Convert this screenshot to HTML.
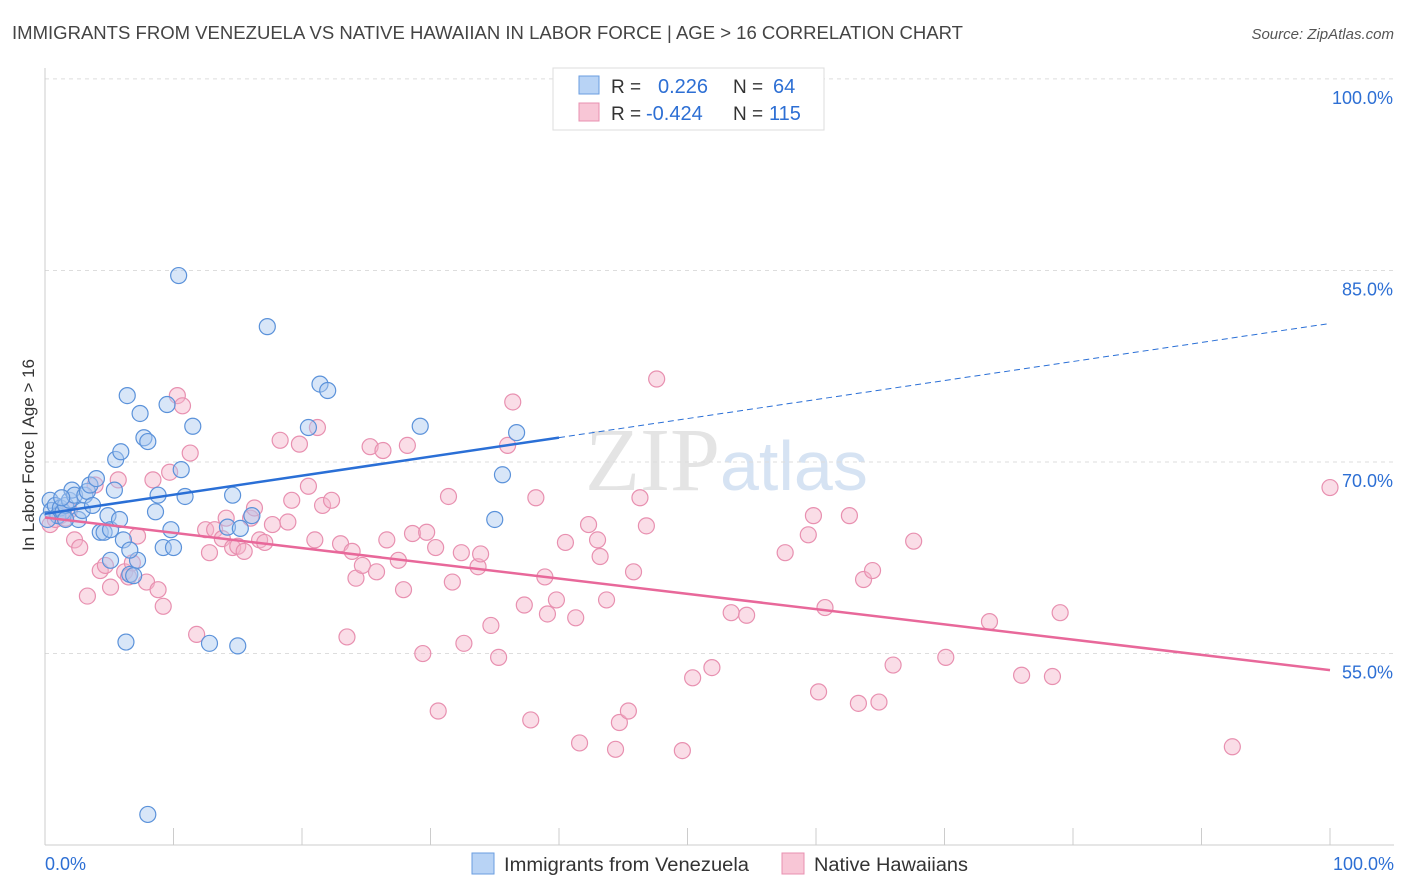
<!DOCTYPE html>
<html><head><meta charset="utf-8"><style>
body{margin:0;background:#fff;font-family:"Liberation Sans",sans-serif}
svg{display:block}
</style></head><body>
<svg id="chart" width="1406" height="892" xmlns="http://www.w3.org/2000/svg">
<text x="12" y="39" font-size="18" fill="#444" textLength="951" lengthAdjust="spacingAndGlyphs">IMMIGRANTS FROM VENEZUELA VS NATIVE HAWAIIAN IN LABOR FORCE | AGE &gt; 16 CORRELATION CHART</text>
<text x="1394" y="39" font-size="15" fill="#555" text-anchor="end" font-style="italic">Source: ZipAtlas.com</text>
<text x="720" y="490" font-size="90" fill="#e4e4e4" text-anchor="end" font-family="Liberation Serif">ZIP</text>
<text x="720" y="490" font-size="70" fill="#d6e3f3">atlas</text>
<g id="grid"></g><g id="marks"></g>
<text transform="translate(34,455) rotate(-90)" font-size="17" fill="#333" text-anchor="middle">In Labor Force | Age &gt; 16</text>
<g>
<rect x="553" y="68" width="271" height="62" fill="#fff" stroke="#ddd"/>
<rect x="579" y="76" width="20" height="18" fill="#b8d3f5" stroke="#6a9ee0"/>
<rect x="579" y="103" width="20" height="18" fill="#f8c6d6" stroke="#e890b0"/>
<text x="611" y="93" font-size="19" fill="#333">R =</text>
<text x="658" y="93" font-size="20" fill="#2d6fd4">0.226</text>
<text x="733" y="93" font-size="19" fill="#333">N =</text>
<text x="773" y="93" font-size="20" fill="#2d6fd4">64</text>
<text x="611" y="120" font-size="19" fill="#333">R =</text>
<text x="646" y="120" font-size="20" fill="#2d6fd4">-0.424</text>
<text x="733" y="120" font-size="19" fill="#333">N =</text>
<text x="769" y="120" font-size="20" fill="#2d6fd4">115</text>
</g>
<g>
<rect x="472" y="853" width="22" height="21" fill="#b8d3f5" stroke="#6a9ee0"/>
<text x="504" y="871" font-size="19" fill="#333" textLength="245" lengthAdjust="spacingAndGlyphs">Immigrants from Venezuela</text>
<rect x="782" y="853" width="22" height="21" fill="#f8c6d6" stroke="#e890b0"/>
<text x="814" y="871" font-size="19" fill="#333" textLength="154" lengthAdjust="spacingAndGlyphs">Native Hawaiians</text>
</g>
</svg>
<script>
const blueX=[0.4,0.5,0.8,1.0,1.2,1.4,1.6,1.9,2.1,2.3,2.6,2.9,3.1,3.3,3.5,3.7,4.0,4.3,4.6,4.9,5.1,5.4,5.5,5.8,5.9,6.1,6.4,6.6,6.9,7.2,7.4,7.7,8.0,8.6,8.8,9.2,9.5,9.8,10.0,10.4,10.6,10.9,11.5,6.3,12.8,14.2,14.6,15.0,16.1,17.3,20.5,21.4,22.0,29.2,35.0,35.6,36.7,8.0,0.2,1.6,6.6,5.1,15.2,1.3];
const blueY=[67.0,66.2,66.6,65.8,66.4,66.1,66.6,67.0,67.8,67.4,65.5,66.2,67.4,67.7,68.2,66.6,68.7,64.5,64.5,65.8,64.7,67.8,70.2,65.5,70.8,63.9,75.2,61.2,61.1,62.3,73.8,71.9,71.6,66.1,67.4,63.3,74.5,64.7,63.3,84.6,69.4,67.3,72.8,55.9,55.8,64.9,67.4,55.6,65.8,80.6,72.7,76.1,75.6,72.8,65.5,69.0,72.3,42.4,65.5,65.5,63.1,62.3,64.8,67.2];
const pinkX=[0.4,0.8,1.2,1.6,1.9,2.3,2.7,3.3,3.9,4.3,4.7,5.1,5.7,6.2,6.5,6.8,7.2,7.9,8.4,8.8,9.2,9.7,10.3,10.7,11.3,11.8,12.5,12.8,13.2,13.8,14.1,14.6,15.0,15.5,16.0,16.3,16.7,17.1,17.7,18.3,18.9,19.2,19.8,20.5,21.0,21.2,21.6,22.3,23.0,23.5,23.9,24.2,24.7,25.3,25.8,26.3,26.6,27.5,27.9,28.2,28.6,29.4,29.7,30.4,30.6,31.4,31.7,32.4,32.6,33.7,33.9,34.7,35.3,36.0,36.4,37.3,37.8,38.2,38.9,39.1,39.8,40.5,41.3,41.6,42.3,43.0,43.2,43.7,44.4,44.7,45.4,45.8,46.3,46.8,47.6,49.6,50.4,51.9,53.4,54.6,57.6,59.4,59.8,60.2,60.7,62.6,63.3,63.7,64.4,64.9,66.0,67.6,70.1,73.5,76.0,78.4,79.0,92.4,100.0];
const pinkY=[65.1,65.5,65.8,65.6,66.2,63.9,63.3,59.5,68.2,61.5,61.9,60.2,68.6,61.4,61.0,62.1,64.2,60.6,68.6,60.0,58.7,69.2,75.2,74.4,70.7,56.5,64.7,62.9,64.7,64.0,65.6,63.3,63.4,63.0,65.6,66.4,63.9,63.7,65.1,71.7,65.3,67.0,71.4,68.1,63.9,72.7,66.6,67.0,63.6,56.3,63.0,60.9,61.9,71.2,61.4,70.9,63.9,62.3,60.0,71.3,64.4,55.0,64.5,63.3,50.5,67.3,60.6,62.9,55.8,61.8,62.8,57.2,54.7,71.3,74.7,58.8,49.8,67.2,61.0,58.1,59.2,63.7,57.8,48.0,65.1,63.9,62.6,59.2,47.5,49.6,50.5,61.4,67.2,65.0,76.5,47.4,53.1,53.9,58.2,58.0,62.9,64.3,65.8,52.0,58.6,65.8,51.1,60.8,61.5,51.2,54.1,63.8,54.7,57.5,53.3,53.2,58.2,47.7,68.0];
const yTicks=[55,70,85,100];
const xTickLabels=["0.0%","100.0%"];
const blueTrend=[65.95,0.149]; // intercept, slope
const pinkTrend=[65.65,-0.1195];

const NS="http://www.w3.org/2000/svg";
const sx=v=>45+v*12.85;
const sy=v=>462-(v-70)*12.77;
function mk(t,a,p){const e=document.createElementNS(NS,t);for(const k in a)e.setAttribute(k,a[k]);p.appendChild(e);return e;}
const grid=document.getElementById('grid'),marks=document.getElementById('marks');
yTicks.forEach(v=>{
 const l=mk('line',{x1:45,x2:1394,y1:sy(v),y2:sy(v),stroke:'#ddd','stroke-dasharray':'4,4'},grid);
 
 
 const t=mk('text',{x:1393,y:sy(v)+25,'font-size':18,fill:'#2d6fd4','text-anchor':'end'},grid);
 t.textContent=v.toFixed(1)+'%';
 
 
});
const ax=mk('line',{x1:45,x2:45,y1:68,y2:845,stroke:'#ccc'},grid);


const bx=mk('line',{x1:45,x2:1394,y1:845,y2:845,stroke:'#ccc'},grid);


for(let i=0;i<=10;i++){const t=mk('line',{x1:sx(i*10),x2:sx(i*10),y1:828,y2:845,stroke:'#ccc'},grid);
 
 }
[[0,'start',45],[100,'end',1394]].forEach((d,i)=>{const t=mk('text',{x:d[2],y:870,'font-size':18,fill:'#2d6fd4','text-anchor':d[1]},grid);t.textContent=xTickLabels[i];
 
 });
function pts(X,Y,fill,stroke,name){X.forEach((x,i)=>{const c=mk('circle',{cx:sx(x),cy:sy(Y[i]),r:8,fill:fill,'fill-opacity':0.45,stroke:stroke,'stroke-width':1.2},marks);
 
 });}
pts(pinkX,pinkY,'#f5b3c9','#e890b0','native-hawaiian-point');
pts(blueX,blueY,'#a8c8f0','#5b92da','venezuela-point');
const b0=mk('line',{x1:sx(0),y1:sy(blueTrend[0]),x2:sx(40),y2:sy(blueTrend[0]+40*blueTrend[1]),stroke:'#2a6fd6','stroke-width':2.5},marks);


const b1=mk('line',{x1:sx(40),y1:sy(blueTrend[0]+40*blueTrend[1]),x2:sx(100),y2:sy(blueTrend[0]+100*blueTrend[1]),stroke:'#2a6fd6','stroke-width':1,'stroke-dasharray':'6,4'},marks);


const p0=mk('line',{x1:sx(0),y1:sy(pinkTrend[0]),x2:sx(100),y2:sy(pinkTrend[0]+100*pinkTrend[1]),stroke:'#e8689a','stroke-width':2.5},marks);


</script>
</body></html>
